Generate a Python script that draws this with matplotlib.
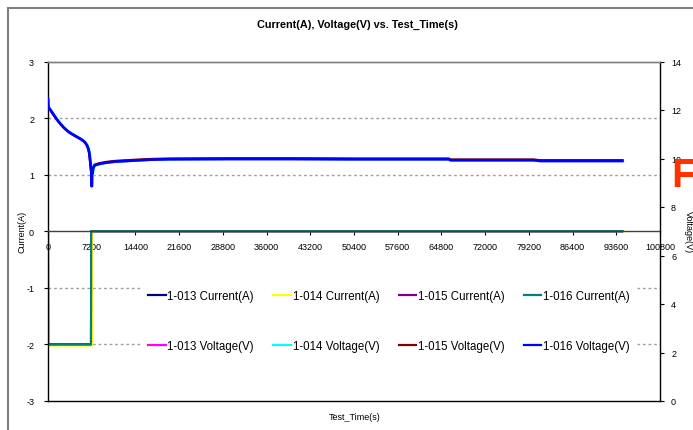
import matplotlib
matplotlib.use("Agg")
import matplotlib.pyplot as plt
from matplotlib.patches import Rectangle

plt.rcParams['font.family'] = ['Liberation Sans', 'DejaVu Sans']

# ---------------- data ----------------
x_ticks = [0, 7200, 14400, 21600, 28800, 36000, 43200, 50400, 57600, 64800,
           72000, 79200, 86400, 93600, 100800]
left_ticks = [-3, -2, -1, 0, 1, 2, 3]
right_ticks = [0, 2, 4, 6, 8, 10, 12, 14]

# current series (A)
cur_time_013 = [0, 20, 7080, 7100, 94600]
cur_013 = [0, -2, -2, 0, 0]
cur_time_014 = [0, 20, 7230, 7250, 94800]
cur_014 = [0, -2.02, -2.02, 0, 0]
cur_time_015 = [0, 20, 7080, 7100, 94600]
cur_015 = [0, -2, -2, 0, 0]
cur_time_016 = [0, 20, 7080, 7100, 94600]
cur_016 = [0, -2, -2, 0, 0]

# voltage series (V)
volt_time = [0, 60, 200, 500, 800, 1100, 1400, 2000, 2500, 3000, 3500, 4000,
             4700, 5400, 5800, 6100, 6400, 6640, 6800, 6920, 7020, 7080, 7150,
             7200, 7250, 7330, 7450, 7700, 8500, 9600, 11000, 12300, 14500,
             16800, 20000, 30000, 40000, 50000, 60000, 66000, 66300, 80000,
             81000, 94600]
volt_016 = [12.45, 12.12, 12.07, 11.96, 11.85, 11.74, 11.63, 11.44, 11.30,
            11.18, 11.08, 11.00, 10.90, 10.80, 10.73, 10.66, 10.55, 10.40,
            10.22, 9.96, 9.70, 9.55, 9.40, 8.86, 9.45, 9.40, 9.62, 9.72, 9.78,
            9.83, 9.87, 9.89, 9.92, 9.95, 9.97, 9.98, 9.98, 9.97, 9.97, 9.97,
            9.93, 9.93, 9.90, 9.90]
volt_013 = volt_016
volt_time_014 = [t + 90 for t in volt_time]
volt_014 = volt_016
volt_015 = [12.45, 12.12, 12.07, 11.96, 11.85, 11.74, 11.63, 11.44, 11.30,
            11.18, 11.08, 11.00, 10.90, 10.80, 10.73, 10.66, 10.55, 10.40,
            10.22, 9.96, 9.70, 9.55, 9.40, 8.86, 9.45, 9.43, 9.65, 9.75, 9.81,
            9.86, 9.90, 9.92, 9.95, 9.98, 10.00, 10.01, 10.01, 10.00, 10.00,
            10.00, 9.96, 9.96, 9.93, 9.93]

# ---------------- figure ----------------
W, H = 693, 431
fig = plt.figure(figsize=(W / 100, H / 100), dpi=100)

def fx(px):
    return px / W

def fy(py):
    return 1 - py / H

# outer frame (extends beyond right/bottom edges)
fig.patches.append(Rectangle((fx(8), fy(520)), fx(800), fy(9) - fy(520),
                             transform=fig.transFigure, fill=False,
                             edgecolor='#808080', linewidth=1.5))

L, R, T, B = 48, 660, 62.5, 402
ax = fig.add_axes([fx(L), fy(B), fx(R - L), fy(T) - fy(B)])
ax2 = ax.twinx()

ax.set_xlim(0, 100800)
ax.set_ylim(-3, 3)
ax2.set_ylim(0, 14)

# grid on left axis
for g in [-2, -1, 1, 2]:
    ax.axhline(g, color='#a0a0a0', linewidth=1.0, linestyle=(0, (2, 2)), zorder=0)

# spines
ax.spines['bottom'].set_position(('data', 0))
ax.spines['bottom'].set_color('#404040')
ax.spines['left'].set_color('black')
ax.spines['top'].set_color('#808080')
ax.spines['right'].set_visible(False)
ax2.spines['right'].set_color('black')
ax2.spines['top'].set_color('#808080')
ax2.spines['bottom'].set_color('black')
ax2.spines['left'].set_visible(False)
for a in (ax, ax2):
    for s in a.spines.values():
        s.set_linewidth(1.0)

ax.set_xticks(x_ticks)
ax.set_xticklabels([str(v) for v in x_ticks])
ax.set_yticks(left_ticks)
ax.set_yticklabels([str(v) for v in left_ticks])
ax2.set_yticks(right_ticks)
ax2.set_yticklabels([str(v) for v in right_ticks])

ax.tick_params(axis='x', direction='out', length=3, width=0.8, labelsize=6.5,
               pad=5, colors='black')
ax.tick_params(axis='y', direction='out', length=3, width=0.8, labelsize=6.5,
               pad=7, colors='black')
ax2.tick_params(axis='y', direction='out', length=3, width=0.8, labelsize=6.5,
                pad=5, colors='black')

# current lines
l_i13, = ax.plot(cur_time_013, cur_013, color='#000080', lw=1.5, label='1-013 Current(A)')
l_i14, = ax.plot(cur_time_014, cur_014, color='#FFFF00', lw=1.5, label='1-014 Current(A)')
l_i15, = ax.plot(cur_time_015, cur_015, color='#800080', lw=1.5, label='1-015 Current(A)')
l_i16, = ax.plot(cur_time_016, cur_016, color='#008080', lw=1.5, label='1-016 Current(A)')

# voltage lines
l_v13, = ax2.plot(volt_time, volt_013, color='#FF00FF', lw=1.8, label='1-013 Voltage(V)')
l_v14, = ax2.plot(volt_time_014, volt_014, color='#00FFFF', lw=1.8, label='1-014 Voltage(V)')
l_v15, = ax2.plot(volt_time, volt_015, color='#800000', lw=1.6, label='1-015 Voltage(V)')
l_v16, = ax2.plot(volt_time, volt_016, color='#0000FF', lw=1.9, label='1-016 Voltage(V)')

handles = [l_i13, l_v13, l_i14, l_v14, l_i15, l_v15, l_i16, l_v16]
leg = ax2.legend(handles=handles, labels=[h.get_label() for h in handles],
                 ncol=4, loc='center', bbox_to_anchor=(fx(389), fy(322)),
                 bbox_transform=fig.transFigure, fontsize=8.3,
                 frameon=True, fancybox=False, framealpha=1,
                 facecolor='white', edgecolor='none',
                 handlelength=1.5, handletextpad=0.15, columnspacing=1.7,
                 labelspacing=3.3, borderpad=0.6)
for h in leg.legend_handles:
    h.set_linewidth(1.6)

# texts
fig.text(fx(357), fy(25), 'Current(A), Voltage(V) vs. Test_Time(s)',
         ha='center', va='center', fontsize=7.8, fontweight='bold')
fig.text(fx(22), fy(232), 'Current(A)', rotation=90, ha='center', va='center', fontsize=6.5)
fig.text(fx(688), fy(232), 'Voltage(V)', rotation=270, ha='center', va='center', fontsize=6.5)
fig.text(fx(355), fy(418), 'Test_Time(s)', ha='center', va='center', fontsize=6.5)
fig.text(fx(671), fy(176), 'F', ha='left', va='center', fontsize=29,
         fontweight='bold', color='#FF3300')

fig.savefig('out.png', dpi=100)
